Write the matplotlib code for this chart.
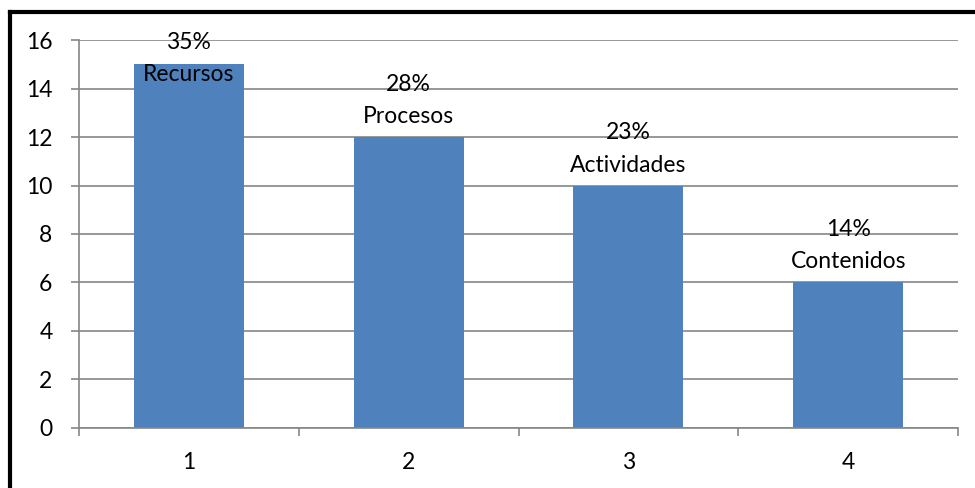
import matplotlib.pyplot as plt
from matplotlib.lines import Line2D

# data
categories = [1, 2, 3, 4]
values = [15, 12, 10, 6]
percents = ['35%', '28%', '23%', '14%']
names = ['Recursos', 'Procesos', 'Actividades', 'Contenidos']

plt.rcParams['font.family'] = ['Lato', 'DejaVu Sans']
grey = '#868686'
fs = 16.5

fig = plt.figure(figsize=(9.75, 4.88), dpi=100)
ax = fig.add_axes([0.081, 0.123, 0.9016, 0.795])

ax.bar(categories, values, width=0.5, color='#4F81BD', zorder=2)
ax.set_xlim(0.5, 4.5)
ax.set_ylim(0, 16)
ax.set_yticks(range(0, 17, 2))
ax.yaxis.grid(True, color=grey, linewidth=1.2, zorder=0)

# x ticks between categories, labels centred
ax.set_xticks([c + 0.5 for c in [0] + categories], minor=False)
ax.set_xticklabels([])
ax.set_xticks(categories, minor=True)
ax.set_xticklabels([str(c) for c in categories], minor=True)
ax.tick_params(axis='x', which='major', direction='out', length=6, width=1.2, color=grey)
ax.tick_params(axis='x', which='minor', length=0, pad=17, labelsize=fs)
ax.tick_params(axis='y', direction='out', length=6, width=1.2, color=grey, pad=13, labelsize=fs)

for s in ['top', 'right']:
    ax.spines[s].set_visible(False)
for s in ['left', 'bottom']:
    ax.spines[s].set_color(grey)
    ax.spines[s].set_linewidth(1.2)

# labels above bars, first one pushed down inside the plot
for i, (c, v) in enumerate(zip(categories, values)):
    dy = -21 if i == 0 else 10
    ax.annotate(percents[i] + '\n' + names[i], (c, v), xytext=(0, dy),
                textcoords='offset pixels', ha='center', va='bottom',
                fontsize=fs, linespacing=1.65, zorder=3)

# thick black frame (top and left visible)
fig.add_artist(Line2D([0.0105, 1.0], [0.976, 0.976], color='black', linewidth=3, transform=fig.transFigure))
fig.add_artist(Line2D([0.0105, 0.0105], [0.0, 0.976], color='black', linewidth=3, transform=fig.transFigure))

fig.savefig('out.png', dpi=100)
